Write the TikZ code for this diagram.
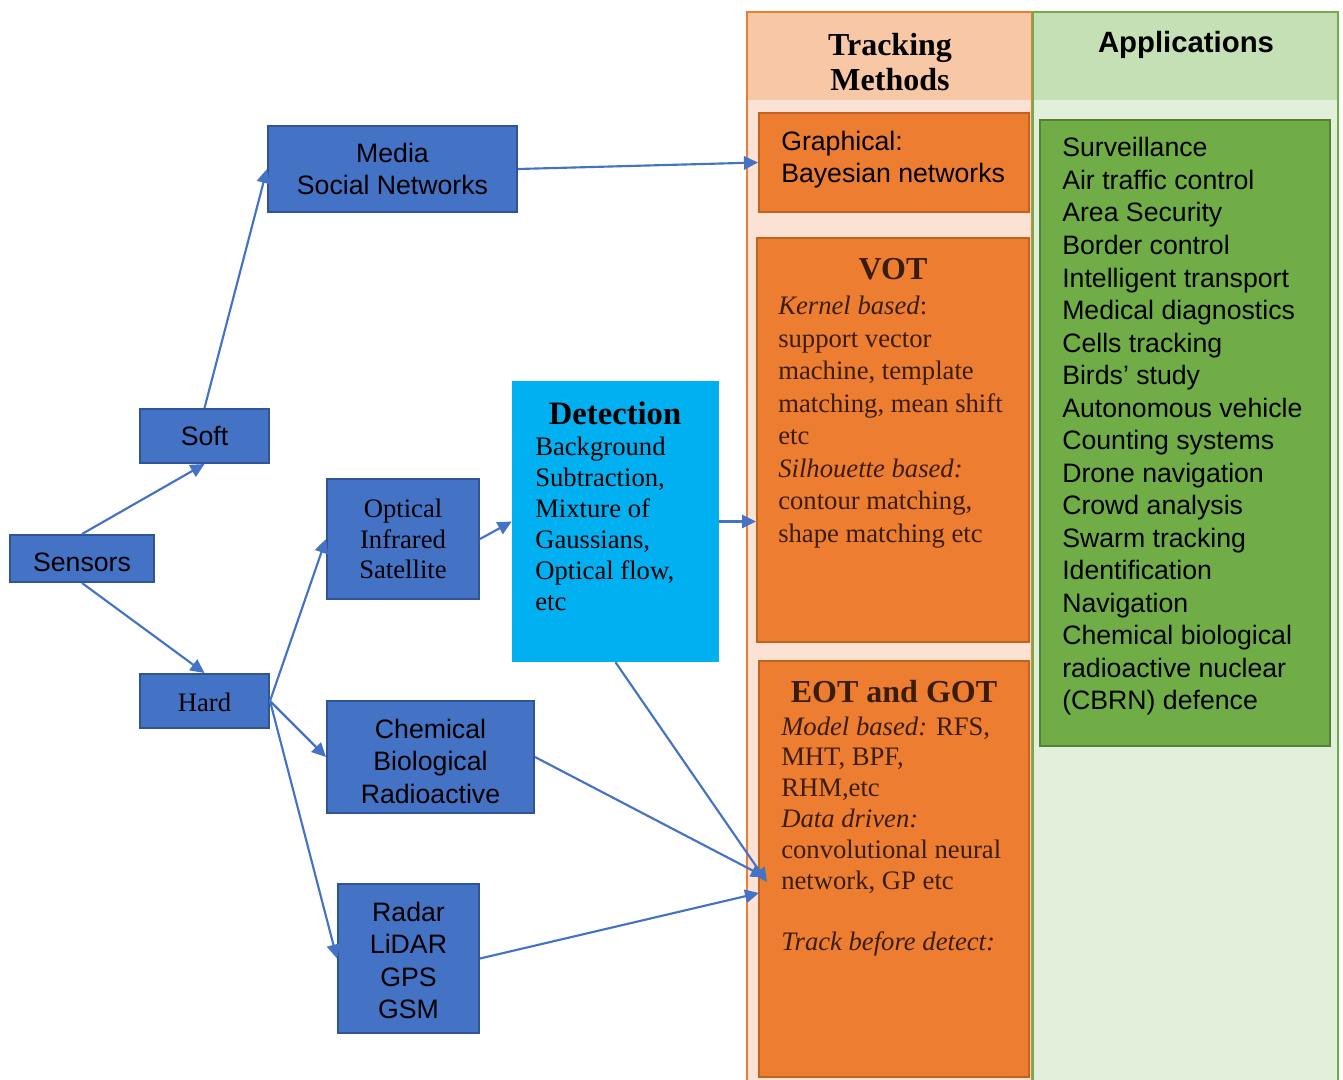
\documentclass[tikz,border=0pt]{standalone}
\usepackage{fontspec}
\setmainfont{Liberation Serif}
\setsansfont{Liberation Sans}
\usetikzlibrary{arrows.meta}
\definecolor{bluefill}{HTML}{4472C4}
\definecolor{blueline}{HTML}{2F5597}
\definecolor{arrowblue}{HTML}{4472C4}
\definecolor{cyanfill}{HTML}{00B0F0}
\definecolor{orfill}{HTML}{ED7D31}
\definecolor{orline}{HTML}{C0631F}
\definecolor{orhead}{HTML}{F8C8A6}
\definecolor{orlight}{HTML}{FBE2D5}
\definecolor{grfill}{HTML}{70AD47}
\definecolor{grline}{HTML}{548235}
\definecolor{grhead}{HTML}{C5E0B4}
\definecolor{grlight}{HTML}{E2EFDA}
\definecolor{brtext}{HTML}{3A1D08}
\begin{document}
\begin{tikzpicture}[x=0.75pt,y=-0.75pt,
  bluebox/.style={draw=blueline, fill=bluefill, line width=1.5pt, inner sep=0pt, align=center},
  sansf/.style={font=\sffamily\fontsize{20}{24.4}\selectfont},
  seriff/.style={font=\fontsize{20}{23}\selectfont},
  orbox/.style={draw=orline, fill=orfill, line width=1.5pt, inner sep=0pt},
  grbox/.style={draw=grline, fill=grfill, line width=1.5pt, inner sep=0pt},
  txt/.style={inner sep=0pt, align=left},
  arr/.style={draw=arrowblue, line width=1.6pt, -{Triangle[length=10.5pt,width=10pt]}}
]
\useasboundingbox (0,0) rectangle (1343,1079);
\clip (0,0) rectangle (1343,1079);

% columns
\fill[orlight] (747,12) rectangle (1032,1095);
\fill[orhead] (747,12) rectangle (1032,100);
\draw[orfill, line width=1.5pt] (747,12) rectangle (1032,1095);
\fill[grlight] (1033,12) rectangle (1338,1095);
\fill[grhead] (1033,12) rectangle (1338,100);
\draw[grfill, line width=1.5pt] (1033,12) rectangle (1338,1095);

\node[font=\bfseries\fontsize{24}{26.25}\selectfont, align=center, inner sep=0pt] (tmtitle) at (890,62) {Tracking\\Methods};
\node[font=\sffamily\bfseries\fontsize{22}{26}\selectfont, inner sep=0pt] (aptitle) at (1186,45) {Applications};

% tracking boxes
\node[orbox, minimum width=202.5pt, minimum height=74.25pt] (graph) at (894,162.5) {};
\node[txt, anchor=west, font=\sffamily\fontsize{20}{24}\selectfont] (graphtext) at (781,160) {Graphical:\\Bayesian networks};

\node[orbox, minimum width=204pt, minimum height=303pt] (vot) at (893,440) {};
\node[font=\bfseries\fontsize{24}{28}\selectfont, text=brtext, inner sep=0pt] (vottitle) at (893,269) {VOT};
\node[txt, anchor=west, font=\fontsize{20}{24.4}\selectfont, text=brtext] (votbody) at (778,422) {\textit{Kernel based}:\\support vector\\machine, template\\matching, mean shift\\etc\\\textit{Silhouette based:}\\contour matching,\\shape matching etc};

\node[orbox, minimum width=202.5pt, minimum height=312pt] (eot) at (894,869) {};
\node[font=\bfseries\fontsize{24}{28}\selectfont, text=brtext, inner sep=0pt] (eottitle) at (894,692) {EOT and GOT};
\node[txt, anchor=west, font=\fontsize{20}{23.1}\selectfont, text=brtext] (eotbody) at (781,836.5) {{\itshape Model based:} RFS,\\MHT, BPF,\\RHM,etc\\{\itshape Data driven:}\\convolutional neural\\network, GP etc\\[23.1pt]{\itshape Track before detect:}};

% applications
\node[grbox, minimum width=217.5pt, minimum height=469.5pt] (apps) at (1185,433) {};
\node[txt, anchor=west, font=\sffamily\fontsize{20}{24.4}\selectfont] (appstext) at (1062,426.5) {Surveillance\\Air traffic control\\Area Security\\Border control\\Intelligent transport\\Medical diagnostics\\Cells tracking\\Birds’ study\\Autonomous vehicle\\Counting systems\\Drone navigation\\Crowd analysis\\Swarm tracking\\Identification\\Navigation\\Chemical biological\\radioactive nuclear\\(CBRN) defence};

% sensor boxes
\node[bluebox, sansf, minimum width=186.75pt, minimum height=64.5pt] (media) at (392.5,169) {Media\\Social Networks};
\node[bluebox, sansf, minimum width=96.75pt, minimum height=40.5pt] (soft) at (204.5,436) {Soft};
\node[bluebox, sansf, minimum width=108pt, minimum height=35.25pt] (sensors) at (82,558.5) {\rule{0pt}{19pt}Sensors};
\node[bluebox, seriff, minimum width=96.75pt, minimum height=40.5pt] (hard) at (204.5,701) {\rule{0pt}{16.2pt}Hard};
\node[bluebox, font=\fontsize{20}{23}\selectfont, minimum width=114pt, minimum height=90pt] (optical) at (403,539) {Optical\\Infrared\\Satellite};
\node[bluebox, sansf, minimum width=155.25pt, minimum height=84pt] (chem) at (430.5,757) {\rule{0pt}{20.5pt}Chemical\\Biological\\Radioactive};
\node[bluebox, sansf, minimum width=105.75pt, minimum height=111.75pt] (radar) at (408.5,958.5) {\rule{0pt}{17.7pt}Radar\\LiDAR\\GPS\\GSM};

% detection
\node[fill=cyanfill, minimum width=155.25pt, minimum height=210.75pt, inner sep=0pt] (detect) at (615.5,521.5) {};
\node[font=\bfseries\fontsize{24.5}{28}\selectfont, inner sep=0pt] (dettitle) at (615,413) {Detection};
\node[txt, anchor=west, font=\fontsize{20}{23.25}\selectfont] (detbody) at (535,523.5) {Background\\Subtraction,\\Mixture of\\Gaussians,\\Optical flow,\\etc};

% connectors
\coordinate (eotin1) at (767,882);
\coordinate (eotin2) at (765,877);
\coordinate (eotin3) at (759,893);
\draw[arr] (sensors.north) -- (soft.south);
\draw[arr] (sensors.south) -- (hard.north);
\draw[arr] (soft.north) -- (media.west);
\draw[arr] (media.east) -- (graph.west);
\draw[arr] (hard.east) -- (optical.west);
\draw[arr] (hard.east) -- (chem.west);
\draw[arr] (hard.east) -- (radar.west);
\draw[arr] (optical.east) -- (detect.west);
\draw[arr] (detect.east) -- (detect.east -| vot.west);
\draw[arr] (detect.south) -- (eotin1);
\draw[arr] (chem.east) -- (eotin2);
\draw[arr] (radar.east) -- (eotin3);
\end{tikzpicture}
\end{document}
